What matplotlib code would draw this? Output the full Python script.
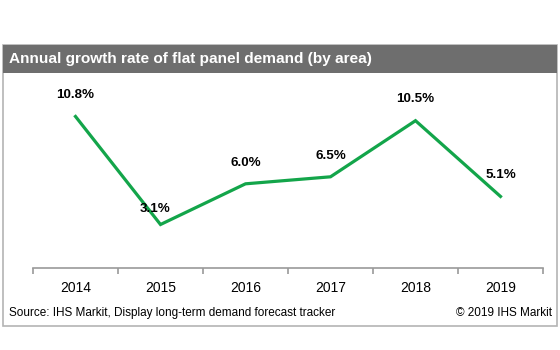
import matplotlib.pyplot as plt
from matplotlib.patches import Rectangle

years = ['2014', '2015', '2016', '2017', '2018', '2019']
growth = [10.8, 3.1, 6.0, 6.5, 10.5, 5.1]
labels = ['10.8%', '3.1%', '6.0%', '6.5%', '10.5%', '5.1%']

plt.rcParams['font.family'] = ['Liberation Sans', 'DejaVu Sans']

W, H = 560, 350
fig = plt.figure(figsize=(5.6, 3.5), dpi=100)

def fx(px):
    return px / W

def fy(py):
    return 1 - py / H

# outer frame and title bar
fig.patches.append(Rectangle((fx(3), fy(326)), fx(554), (326 - 45) / H, transform=fig.transFigure,
                             fill=False, edgecolor='#b4b4b4', linewidth=1.2))
fig.patches.append(Rectangle((fx(3), fy(73)), fx(554), 28 / H, transform=fig.transFigure,
                             facecolor='#6e6e6e', edgecolor='none'))
fig.text(fx(9), fy(59), 'Annual growth rate of flat panel demand (by area)', color='white',
         fontsize=11.1, fontweight='bold', va='center', ha='left')

ax = fig.add_axes([fx(33), fy(268), fx(510), (268 - 80) / H])
x = range(len(years))
ax.plot(x, growth, color='#13a54a', linewidth=2.3, solid_joinstyle='miter')
ax.set_xlim(-0.5, len(years) - 0.5)
ax.set_ylim(0, 13.4)

offsets = [(0, 11), (-4, 7), (0, 11), (0, 11), (0, 11), (0, 11)]
for i, (v, lab) in enumerate(zip(growth, labels)):
    ax.annotate(lab, (i, v), xytext=offsets[i], textcoords='offset points',
                ha='center', va='bottom', fontsize=9.6, fontweight='bold')

for s in ['top', 'right', 'left']:
    ax.spines[s].set_visible(False)
ax.spines['bottom'].set_color('#9a9a9a')
ax.spines['bottom'].set_linewidth(1.2)
ax.set_yticks([])
ax.set_xticks(list(x))
ax.set_xticklabels(years, fontsize=10)
ax.tick_params(axis='x', which='major', length=0, pad=9)
ax.set_xticks([i - 0.5 for i in range(len(years) + 1)], minor=True)
ax.tick_params(axis='x', which='minor', length=4, color='#9a9a9a', width=1.2)
ax.patch.set_visible(False)

fig.text(fx(9), fy(313), 'Source: IHS Markit, Display long-term demand forecast tracker',
         fontsize=8.5, va='center', ha='left')
fig.text(fx(552), fy(313), '\u00a9 2019 IHS Markit', fontsize=8.5, va='center', ha='right')

fig.savefig('out.png', dpi=100)
